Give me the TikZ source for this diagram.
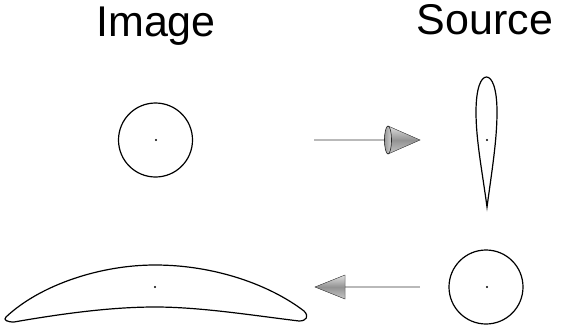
\documentclass[tikz,border=0pt]{standalone}
\usepackage{fontspec}
\setmainfont{Liberation Sans}
\begin{document}
\begin{tikzpicture}[x=1pt,y=-1pt,
  outline/.style={draw=black,line width=1.2pt},
  dotm/.style={fill=black,circle,inner sep=0pt,minimum size=2.2pt},
  shaft/.style={draw=gray!55,line width=1.6pt},
  cone/.style={draw=gray!60!black,line width=0.4pt,top color=gray!25,bottom color=gray!45,middle color=gray!85},
  title/.style={font=\fontsize{43}{43}\selectfont,anchor=base,inner sep=0pt}]
\useasboundingbox (0,0) rectangle (561,332);
\node[title] (img) at (156,36) {Image};
\node[title] (src) at (485,34) {Source};
% top left circle
\draw[outline] (155.5,140) circle (37);
\node[dotm] (c1) at (156,140) {};
% teardrop
\draw[outline] (487,207) .. controls (482,170) and (476,140) .. (476,112)
  .. controls (476,88) and (481,77) .. (486.5,77)
  .. controls (492,77) and (497,88) .. (497,112)
  .. controls (497,140) and (492,170) .. (487,207) -- cycle;
\node[dotm] (d1) at (487,140) {};
% bottom right circle
\draw[outline] (486,287) circle (37);
\node[dotm] (c2) at (487,287) {};
% crescent
\draw[outline] (6,317) .. controls (40,285) and (100,265) .. (155,265)
  .. controls (215,265) and (270,285) .. (304,311)
  .. controls (309,316) and (307,321) .. (299,321)
  .. controls (250,315) and (200,307) .. (155,307)
  .. controls (110,307) and (60,314) .. (14,322)
  .. controls (7,322) and (3,320) .. (6,317) -- cycle;
\node[dotm] (d2) at (155,287) {};
% right arrow
\coordinate (a1s) at (314,140);
\coordinate (a1b) at (388,140);
\coordinate (a1t) at (420,140);
\draw[shaft] (a1s) -- (a1b);
\fill[cone] (a1b) ++(0,-14) -- (a1t) -- ++(-32,14) -- cycle;
\draw[gray!30!black,line width=0.6pt,left color=gray!80,right color=gray!35] (a1b) ellipse[x radius=3.5,y radius=14];
% left arrow
\coordinate (a2s) at (420,287);
\coordinate (a2b) at (345,287);
\coordinate (a2t) at (315,287);
\draw[shaft] (a2s) -- (a2b);
\fill[cone] (a2t) -- ++(30,-12) -- ++(0,24) -- cycle;
\end{tikzpicture}
\end{document}
